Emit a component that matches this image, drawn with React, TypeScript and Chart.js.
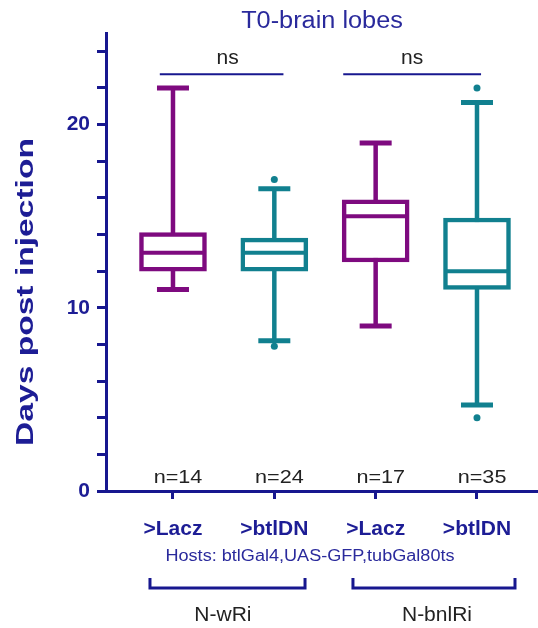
import React, { useEffect, useRef } from 'react';
import { Chart, registerables } from 'chart.js';

Chart.register(...registerables);

// ---- data ----
const categories = ['>Lacz', '>btlDN', '>Lacz', '>btlDN'];
const boxColors = ['#7e0a7f', '#11808f', '#7e0a7f', '#11808f'];
const whiskerLow = [11, 8.2, 9, 4.7];
const q1 = [12, 12, 12.5, 11];
const medians = [13, 13, 15, 12];
const q3 = [14.1, 13.8, 15.9, 14.9];
const whiskerHigh = [22, 16.5, 19, 21.2];
const outlierX = [1, 1, 3, 3];
const outlierY = [17, 7.9, 22, 4];
const sampleSizes = ['n=14', 'n=24', 'n=17', 'n=35'];
const yTickValues = [0, 2, 4, 6, 8, 10, 12, 14, 16, 18, 20, 22, 24];
const yLabelled = [0, 10, 20];
const groupNames = ['N-wRi', 'N-bnlRi'];
const groupSpans = [[-0.227, 1.303], [1.776, 3.375]];
const groupLabelX = [0.493, 2.605];
const sigLabels = ['ns', 'ns'];
const sigSpans = [[-0.13, 1.09], [1.68, 3.04]];
const sigLabelX = [0.54, 2.36];
const titleText = 'T0-brain lobes';
const yTitle = 'Days post injection';
const hostText = 'Hosts: btlGal4,UAS-GFP,tubGal80ts';

const NAVY = '#17178f';
const DARK = '#222222';
const FAMILY = '"Liberation Sans", Arial, sans-serif';

function drawText(
  ctx: CanvasRenderingContext2D,
  text: string,
  x: number,
  y: number,
  font: string,
  color: string,
  sx = 1,
  rotate = 0,
  align: CanvasTextAlign = 'center'
) {
  ctx.save();
  ctx.translate(x, y);
  if (rotate) ctx.rotate(rotate);
  ctx.scale(sx, 1);
  ctx.font = font;
  ctx.fillStyle = color;
  ctx.textAlign = align;
  ctx.textBaseline = 'alphabetic';
  ctx.fillText(text, 0, 0);
  ctx.restore();
}

const boxPlugin = {
  id: 'boxExtras',
  beforeDatasetsDraw(chart: any) {
    const { ctx, scales } = chart;
    const x = scales.x;
    const y = scales.y;
    ctx.save();
    categories.forEach((_, i) => {
      const px = x.getPixelForValue(i);
      ctx.strokeStyle = boxColors[i];
      ctx.lineWidth = 4.5;
      ctx.beginPath();
      ctx.moveTo(px, y.getPixelForValue(whiskerLow[i]));
      ctx.lineTo(px, y.getPixelForValue(whiskerHigh[i]));
      ctx.stroke();
      ctx.lineWidth = 5;
      [whiskerLow[i], whiskerHigh[i]].forEach((v) => {
        const py = y.getPixelForValue(v);
        ctx.beginPath();
        ctx.moveTo(px - 16, py);
        ctx.lineTo(px + 16, py);
        ctx.stroke();
      });
    });
    ctx.restore();
  },
  afterDatasetsDraw(chart: any) {
    const { ctx, scales } = chart;
    const x = scales.x;
    const y = scales.y;
    ctx.save();
    categories.forEach((_, i) => {
      const px = x.getPixelForValue(i);
      const py = y.getPixelForValue(medians[i]);
      ctx.strokeStyle = boxColors[i];
      ctx.lineWidth = 4;
      ctx.beginPath();
      ctx.moveTo(px - 32, py);
      ctx.lineTo(px + 32, py);
      ctx.stroke();
    });
    ctx.restore();
  },
  afterDraw(chart: any) {
    const { ctx, scales, chartArea } = chart;
    const x = scales.x;
    const y = scales.y;
    const bottom = chartArea.bottom;
    // title
    drawText(ctx, titleText, (chartArea.left + chartArea.right) / 2, chartArea.top - 5, `23px ${FAMILY}`, '#2a2a9c', 1.1);
    // y axis title
    drawText(ctx, yTitle, 33, (chartArea.top + chartArea.bottom) / 2 + 30, `bold 23px ${FAMILY}`, '#1d1d95', 1.46, -Math.PI / 2);
    // significance lines
    ctx.save();
    ctx.strokeStyle = NAVY;
    ctx.lineWidth = 2;
    sigSpans.forEach(([a, b], i) => {
      const py = y.getPixelForValue(22.75);
      ctx.beginPath();
      ctx.moveTo(x.getPixelForValue(a), py);
      ctx.lineTo(x.getPixelForValue(b), py);
      ctx.stroke();
      drawText(ctx, sigLabels[i], x.getPixelForValue(sigLabelX[i]), y.getPixelForValue(23.3), `21px ${FAMILY}`, DARK);
    });
    ctx.restore();
    // sample sizes
    sampleSizes.forEach((t, i) => {
      drawText(ctx, t, x.getPixelForValue(i + 0.05), y.getPixelForValue(0.45), `18px ${FAMILY}`, DARK, 1.2);
    });
    // hosts line
    drawText(ctx, hostText, x.getPixelForValue(1.352), bottom + 70, `16px ${FAMILY}`, '#2a2a9c', 1.13);
    // group brackets
    ctx.save();
    ctx.strokeStyle = NAVY;
    ctx.lineWidth = 3;
    groupSpans.forEach(([a, b], i) => {
      const xa = x.getPixelForValue(a);
      const xb = x.getPixelForValue(b);
      ctx.beginPath();
      ctx.moveTo(xa, bottom + 87);
      ctx.lineTo(xa, bottom + 97);
      ctx.lineTo(xb, bottom + 97);
      ctx.lineTo(xb, bottom + 87);
      ctx.stroke();
      drawText(ctx, groupNames[i], x.getPixelForValue(groupLabelX[i]), bottom + 130, `21px ${FAMILY}`, DARK);
    });
    ctx.restore();
  },
};

export default function App() {
  const ref = useRef<HTMLCanvasElement | null>(null);
  useEffect(() => {
    if (!ref.current) return;
    Chart.defaults.font.family = FAMILY;
    const chart = new Chart(ref.current, {
      type: 'bar',
      data: {
        datasets: [
          {
            type: 'bar',
            data: categories.map((_, i) => ({ x: i, y: [q1[i], q3[i]] })) as any,
            backgroundColor: '#ffffff',
            borderColor: boxColors,
            borderWidth: 4.5,
            borderSkipped: false,
            barThickness: 67,
            grouped: false,
          } as any,
          {
            type: 'scatter',
            data: outlierX.map((v, i) => ({ x: v, y: outlierY[i] })),
            backgroundColor: '#11808f',
            borderColor: '#11808f',
            pointRadius: 3.5,
            borderWidth: 0,
            clip: false,
          } as any,
        ],
      },
      options: {
        animation: false,
        responsive: false,
        devicePixelRatio: 1,
        layout: { autoPadding: false, padding: { left: 0, right: 0, top: 33, bottom: 0 } },
        plugins: { legend: { display: false }, tooltip: { enabled: false }, title: { display: false } },
        scales: {
          x: {
            type: 'linear',
            min: -0.661,
            max: 3.602,
            offset: false,
            afterBuildTicks: (scale: any) => {
              scale.ticks = categories.map((_, i) => ({ value: i }));
            },
            afterFit: (scale: any) => {
              scale.height = 137;
              scale.paddingLeft = 0;
              scale.paddingRight = 0;
            },
            ticks: {
              autoSkip: false,
              maxRotation: 0,
              padding: 18,
              color: '#1d1d95',
              font: { size: 21, weight: 'bold' },
              callback: (v: any) => categories[Math.round(v)] ?? '',
            },
            grid: { offset: false, drawOnChartArea: false, drawTicks: true, tickLength: 8, tickWidth: 3, tickColor: NAVY },
            border: { color: NAVY, width: 3 },
          },
          y: {
            type: 'linear',
            min: 0,
            max: 25,
            afterBuildTicks: (scale: any) => {
              scale.ticks = yTickValues.map((v) => ({ value: v }));
            },
            afterFit: (scale: any) => {
              scale.width = 106;
              scale.paddingTop = 0;
              scale.paddingBottom = 0;
            },
            ticks: {
              autoSkip: false,
              padding: 7,
              color: '#1d1d95',
              font: { size: 21, weight: 'bold' },
              callback: (v: any) => (yLabelled.includes(v) ? String(v) : ''),
            },
            grid: { drawOnChartArea: false, drawTicks: true, tickLength: 9, tickWidth: 3, tickColor: NAVY },
            border: { color: NAVY, width: 3 },
          },
        },
      } as any,
      plugins: [boxPlugin],
    });
    return () => chart.destroy();
  }, []);
  return (
    <div style={{ position: 'absolute', left: 0, top: 0, width: 538, height: 628, background: '#fff' }}>
      <canvas ref={ref} width={538} height={628} style={{ width: 538, height: 628, display: 'block' }} />
    </div>
  );
}
